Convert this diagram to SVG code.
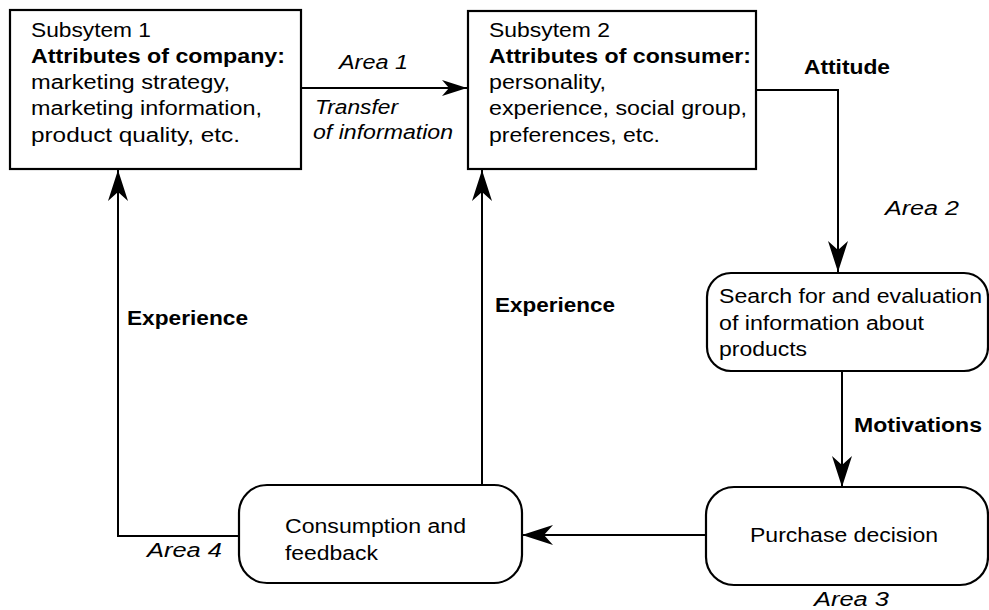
<svg xmlns="http://www.w3.org/2000/svg" width="989" height="610" viewBox="0 0 989 610">
<style>
  text { font-family: "Liberation Sans", Arial, Helvetica, sans-serif; font-size: 20px; fill: #000; }
  .b { font-weight: bold; }
  .i { font-style: italic; }
  .box { fill: #fff; stroke: #000; stroke-width: 2.2; }
  .ln { fill: none; stroke: #000; stroke-width: 2; }
</style>
<defs>
  <marker id="ah" markerUnits="userSpaceOnUse" viewBox="-32 -11 34 22" refX="0" refY="0" markerWidth="34" markerHeight="22" orient="auto">
    <path d="M0,0 L-31,-10 L-22,0 L-31,10 Z" fill="#000"/>
  </marker>
  <marker id="ahs" markerUnits="userSpaceOnUse" viewBox="-26 -9 28 18" refX="0" refY="0" markerWidth="28" markerHeight="18" orient="auto">
    <path d="M0,0 L-25,-8 L-18,0 L-25,8 Z" fill="#000"/>
  </marker>
</defs>
<rect width="989" height="610" fill="#fff"/>

<g id="connectors">
  <path class="ln" d="M301,88 L467,88" marker-end="url(#ahs)"/>
  <path class="ln" d="M756,90 L838,90 L838,272" marker-end="url(#ah)"/>
  <path class="ln" d="M842,371 L842,487" marker-end="url(#ah)"/>
  <path class="ln" d="M706,535 L522,535" marker-end="url(#ah)"/>
  <path class="ln" d="M239,536 L118,536 L118,170" marker-end="url(#ah)"/>
  <path class="ln" d="M482,485 L482,170" marker-end="url(#ah)"/>
  <text class="i" x="339" y="69" textLength="69" lengthAdjust="spacingAndGlyphs">Area  1</text>
  <text class="i" x="315" y="114" textLength="83" lengthAdjust="spacingAndGlyphs">Transfer</text>
  <text class="i" x="313" y="139" textLength="140" lengthAdjust="spacingAndGlyphs">of information</text>
  <text class="b" x="804" y="74" textLength="86" lengthAdjust="spacingAndGlyphs">Attitude</text>
  <text class="i" x="885" y="215" textLength="74" lengthAdjust="spacingAndGlyphs">Area  2</text>
  <text class="b" x="854" y="432" textLength="128" lengthAdjust="spacingAndGlyphs">Motivations</text>
  <text class="i" x="814" y="606" textLength="75" lengthAdjust="spacingAndGlyphs">Area  3</text>
  <text class="i" x="147" y="557" textLength="75" lengthAdjust="spacingAndGlyphs">Area  4</text>
  <text class="b" x="127" y="325" textLength="121" lengthAdjust="spacingAndGlyphs">Experience</text>
  <text class="b" x="495" y="312" textLength="120" lengthAdjust="spacingAndGlyphs">Experience</text>
</g>

<g id="subsystem1">
  <rect class="box" x="10" y="10" width="291" height="159"/>
  <text x="31" y="37" textLength="120" lengthAdjust="spacingAndGlyphs">Subsytem 1</text>
  <text class="b" x="31" y="63" textLength="254" lengthAdjust="spacingAndGlyphs">Attributes of company:</text>
  <text x="31" y="89" textLength="199" lengthAdjust="spacingAndGlyphs">marketing strategy,</text>
  <text x="31" y="115" textLength="231" lengthAdjust="spacingAndGlyphs">marketing information,</text>
  <text x="31" y="142" textLength="209" lengthAdjust="spacingAndGlyphs">product quality, etc.</text>
</g>

<g id="subsystem2">
  <rect class="box" x="468" y="11" width="288" height="158"/>
  <text x="489" y="37" textLength="121" lengthAdjust="spacingAndGlyphs">Subsytem 2</text>
  <text class="b" x="489" y="63" textLength="262" lengthAdjust="spacingAndGlyphs">Attributes of consumer:</text>
  <text x="489" y="89" textLength="117" lengthAdjust="spacingAndGlyphs">personality,</text>
  <text x="489" y="115" textLength="258" lengthAdjust="spacingAndGlyphs">experience, social group,</text>
  <text x="489" y="142" textLength="171" lengthAdjust="spacingAndGlyphs">preferences, etc.</text>
</g>

<g id="search">
  <rect class="box" x="707" y="273" width="281" height="98" rx="24" ry="24"/>
  <text x="719" y="303" textLength="263" lengthAdjust="spacingAndGlyphs">Search for and evaluation</text>
  <text x="719" y="330" textLength="205" lengthAdjust="spacingAndGlyphs">of information about</text>
  <text x="719" y="356" textLength="88" lengthAdjust="spacingAndGlyphs">products</text>
</g>

<g id="purchase">
  <rect class="box" x="706" y="487" width="282" height="98" rx="28" ry="28"/>
  <text x="750" y="542" textLength="188" lengthAdjust="spacingAndGlyphs">Purchase decision</text>
</g>

<g id="consumption">
  <rect class="box" x="239" y="485" width="283" height="98" rx="28" ry="28"/>
  <text x="285" y="533" textLength="181" lengthAdjust="spacingAndGlyphs">Consumption and</text>
  <text x="285" y="560" textLength="93" lengthAdjust="spacingAndGlyphs">feedback</text>
</g>
</svg>
